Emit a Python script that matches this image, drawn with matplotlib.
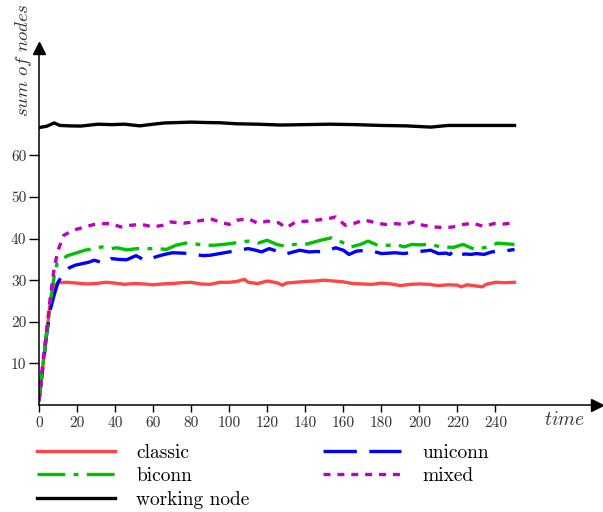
import matplotlib
matplotlib.use('Agg')
import matplotlib.pyplot as plt

plt.rcParams['font.family'] = ['cmr10', 'DejaVu Sans']
plt.rcParams['mathtext.fontset'] = 'cm'
plt.rcParams['lines.scale_dashes'] = False

# values
t_classic = [0, 2, 4, 6, 8, 10, 15, 20, 25, 30, 35, 40, 45, 50, 55, 60, 65, 70, 75, 80,
             85, 90, 95, 100, 104, 108, 110, 115, 120, 125, 128, 130, 135, 140, 145, 150,
             155, 160, 165, 170, 175, 180, 185, 190, 195, 200, 205, 210, 215, 220, 222,
             225, 230, 233, 235, 240, 245, 250]
classic = [1, 9, 17, 25, 28.5, 29.4, 29.5, 29.3, 29.1, 29.2, 29.5, 29.3, 29.0, 29.2, 29.1,
           28.9, 29.1, 29.2, 29.4, 29.5, 29.1, 29.0, 29.5, 29.5, 29.7, 30.2, 29.5, 29.2,
           29.8, 29.4, 28.8, 29.3, 29.5, 29.7, 29.8, 30.0, 29.8, 29.6, 29.2, 29.1, 29.0,
           29.3, 29.1, 28.7, 29.0, 29.1, 29.0, 28.7, 28.9, 28.8, 28.4, 28.9, 28.6, 28.4,
           29.0, 29.5, 29.4, 29.5]

t_uniconn = [0, 2, 4, 6, 8, 10, 12, 14, 16, 19, 23, 26, 29, 32, 34, 38, 42, 46, 51, 56,
             62, 66, 70, 76, 81, 86, 90, 95, 100, 105, 110, 114, 117, 121, 125, 129, 133,
             137, 142, 146, 150, 156, 160, 163, 167, 172, 176, 180, 184, 187, 192, 197,
             202, 206, 210, 214, 216, 218, 220, 224, 227, 230, 234, 238, 242, 246, 250]
uniconn = [1, 9, 17, 23, 26.5, 29.5, 31, 32.2, 33, 33.6, 34.0, 34.3, 34.8, 34.4, 34.0,
           35.2, 35.0, 34.9, 35.9, 34.7, 35.7, 36.2, 36.6, 36.5, 36.3, 35.9, 36.0, 36.4,
           36.8, 37.2, 37.6, 37.2, 36.8, 37.6, 37.0, 36.2, 36.7, 37.2, 36.8, 36.9, 36.8,
           37.8, 37.2, 36.2, 37.0, 37.2, 36.9, 36.4, 36.5, 36.6, 36.4, 36.8, 37.0, 37.2,
           36.4, 36.5, 36.2, 37.0, 36.0, 36.3, 36.2, 36.4, 36.2, 36.8, 37.0, 37.1, 37.4]

t_biconn = [0, 2, 4, 6, 8, 9.5, 11, 15, 20, 24, 29, 33, 38, 41, 46, 52, 57, 62, 67, 72,
            78, 87, 92, 97, 102, 110, 115, 120, 125, 129, 134, 141, 148, 154, 159, 164,
            169, 173, 178, 183, 189, 192, 196, 200, 206, 211, 218, 223, 229, 236, 241, 250]
biconn = [1, 9.5, 17.5, 25, 31, 34, 34.7, 35.9, 36.6, 37.2, 37.6, 38.0, 37.6, 37.8, 37.3,
          37.6, 37.6, 37.6, 37.4, 38.4, 39.0, 38.4, 38.4, 38.6, 38.9, 39.4, 38.9, 39.6,
          38.6, 38.2, 38.6, 38.7, 39.6, 40.2, 39.2, 38.0, 38.6, 39.4, 38.4, 38.4, 38.4,
          38.0, 38.6, 38.5, 38.6, 38.0, 37.9, 38.6, 37.4, 38.0, 38.9, 38.6]

t_mixed = [0, 2, 4, 6, 8, 10, 13, 18, 24, 29, 33, 38, 43, 48, 54, 60, 65, 69, 76, 81,
           87, 90, 95, 100, 104, 110, 115, 120, 126, 130, 135, 141, 147, 152, 156, 161,
           166, 171, 177, 182, 187, 192, 197, 202, 208, 214, 219, 223, 228, 234, 239,
           244, 250]
mixed = [1, 10, 18, 26, 33, 37.2, 40.8, 42.0, 42.8, 43.4, 43.6, 43.6, 42.8, 43.2, 43.4,
         42.8, 43.2, 44.0, 43.7, 44.0, 44.5, 44.8, 44.0, 43.4, 44.4, 44.8, 43.7, 44.2,
         43.8, 42.6, 44.0, 44.2, 44.5, 44.8, 45.2, 43.2, 43.7, 44.5, 43.8, 43.4, 43.6,
         43.4, 44.0, 43.2, 42.8, 42.6, 42.9, 43.4, 43.7, 42.9, 43.6, 43.5, 43.8]

t_working = [0, 4, 8, 11, 16, 22, 31, 38, 45, 53, 60, 66, 73, 80, 88, 95, 104, 115, 127,
             140, 153, 166, 180, 193, 206, 215, 230, 250]
working = [66.7, 67.0, 67.8, 67.2, 67.1, 67.05, 67.5, 67.4, 67.5, 67.1, 67.5, 67.8, 67.9,
           68.0, 67.9, 67.85, 67.6, 67.5, 67.3, 67.4, 67.5, 67.4, 67.2, 67.1, 66.8, 67.2,
           67.2, 67.2]

xticks = list(range(0, 241, 20))
yticks = [10, 20, 30, 40, 50, 60]

fig = plt.figure(figsize=(6.03, 5.12), dpi=100)
ax = fig.add_axes([39 / 603, 107 / 512, 558 / 603, 357 / 512])
ax.set_xlim(0, 558 / 1.902)
ax.set_ylim(0, 357 / 4.16)

lw = 2.4
l_classic, = ax.plot(t_classic, classic, color='#ff4545', lw=lw, label='classic')
l_uni, = ax.plot(t_uniconn, uniconn, color='#0000ff', lw=lw, ls=(0, (24, 9)), label='uniconn')
l_bi, = ax.plot(t_biconn, biconn, color='#00c000', lw=lw, ls=(0, (20, 6, 3.5, 6)), label='biconn')
l_mix, = ax.plot(t_mixed, mixed, color='#c000c0', lw=lw, ls=(0, (5, 5)), label='mixed')
l_work, = ax.plot(t_working, working, color='black', lw=lw, label='working node')

for s in ['top', 'right']:
    ax.spines[s].set_visible(False)
for s in ['left', 'bottom']:
    ax.spines[s].set_linewidth(1.1)
ax.plot(1, 0, '>k', ms=8, transform=ax.get_yaxis_transform(), clip_on=False)
ax.plot(0, 1, '^k', ms=8, transform=ax.get_xaxis_transform(), clip_on=False)

ax.set_xticks(xticks)
ax.set_yticks(yticks)
ax.tick_params(axis='x', direction='out', length=5, width=1, labelsize=11, pad=3)
ax.tick_params(axis='y', direction='out', length=7, width=1, labelsize=11, pad=2)
for lab in ax.get_xticklabels() + ax.get_yticklabels():
    lab.set_color('#333333')

fig.text(24 / 603, 1 - 60 / 512, r'$\mathit{sum\ of\ nodes}$', rotation=90,
         ha='center', va='center', fontsize=13.5, color='#333333')
fig.text(565 / 603, 1 - 420 / 512, r'$\mathit{time}$', ha='center', va='center',
         fontsize=14, color='#333333')

fig.legend(handles=[l_classic, l_bi, l_work, l_uni, l_mix], ncol=2, frameon=False,
           loc='upper left', bbox_to_anchor=(37 / 603, 1 - 444 / 512),
           borderpad=0, borderaxespad=0, fontsize=14, handlelength=4.0,
           handletextpad=1.1, columnspacing=3.8, labelspacing=0.28)

fig.savefig('out.png', dpi=100)
